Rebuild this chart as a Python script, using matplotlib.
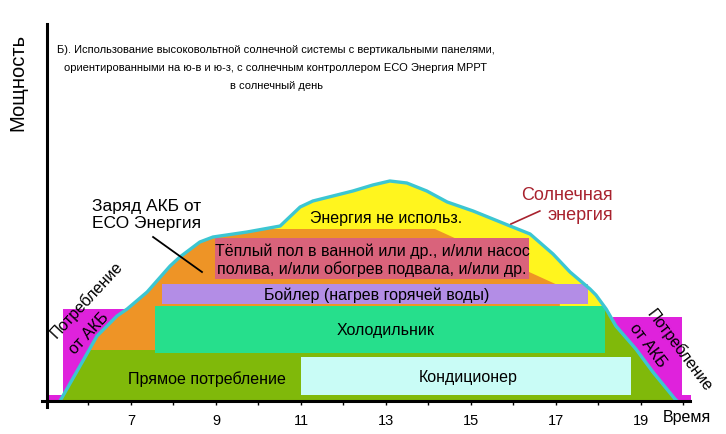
import matplotlib
matplotlib.use("Agg")
import matplotlib.pyplot as plt

plt.rcParams['font.family'] = ['Liberation Sans', 'DejaVu Sans']

# solar power over the day (hour, power in arbitrary units)
sun_t = [5.33, 5.80, 6.20, 6.67, 6.91, 7.38, 7.92, 8.15, 8.62, 8.93, 9.73, 10.51,
         10.98, 11.28, 11.75, 12.22, 12.69, 13.09, 13.49, 13.96, 14.44, 15.05,
         15.92, 16.39, 16.93, 17.33, 17.80, 17.94, 18.18, 18.41, 18.88, 19.28,
         19.80, 19.85]
sun_p = [0.0, 1.75, 3.25, 4.25, 4.6, 5.45, 6.75, 7.2, 7.95, 8.2, 8.45, 8.75,
         9.7, 10.0, 10.25, 10.5, 10.8, 11.0, 10.9, 10.5, 9.95, 9.5,
         8.75, 8.35, 7.35, 6.45, 5.6, 5.3, 4.6, 3.75, 2.6, 1.45,
         0.1, 0.0]

# battery charging zone (upper bound)
charge_t = [5.0, 5.0, 14.15, 17.09, 17.09]
charge_p = [0.0, 8.6, 8.6, 5.75, 0.0]

# direct consumption zone (upper bound)
direct_t = [5.0, 5.0, 7.56, 7.56, 20.0, 20.0]
direct_p = [0.0, 2.55, 2.55, 4.75, 4.75, 0.0]

# loads: start hour, end hour, lower and upper power
load_names = ["Тёплый пол в ванной или др., и/или насос\nполива, и/или обогрев подвала, и/или др.",
              "Бойлер (нагрев горячей воды)", "Холодильник", "Кондиционер"]
load_start = [8.98, 7.73, 7.56, 11.0]
load_end = [16.36, 17.75, 18.15, 18.76]
load_low = [6.1, 4.85, 2.4, 0.3]
load_high = [8.15, 5.85, 4.75, 2.2]

# consumption from the battery (morning, evening)
batt_start = [5.40, 5.02, 18.34, 18.34]
batt_end = [6.86, 5.40, 19.96, 20.18]
batt_high = [4.6, 0.3, 4.2, 0.3]

hours = list(range(6, 21))
hour_labels = [str(h) if h % 2 == 1 else "" for h in hours]

load_colors = ['#D9637B', '#B38DE6', '#26DF8C', '#C9FCF6']

fig = plt.figure(figsize=(7.26, 4.35), dpi=100)
ax = fig.add_axes([0, 0, 1, 1])
ax.set_xlim(3.918, 21.0)
ax.set_ylim(-1.65, 20.1)

for t0, t1, h in zip(batt_start, batt_end, batt_high):
    ax.fill([t0, t0, t1, t1], [0, h, h, 0], color='#DF22DC', lw=0, zorder=1)

sun_patch = ax.fill(sun_t + [sun_t[0]], sun_p + [0], color='#FFF51E', lw=0, zorder=2)[0]
charge = ax.fill(charge_t, charge_p, color='#EE9426', lw=0, zorder=3)[0]
charge.set_clip_path(sun_patch)
direct = ax.fill(direct_t, direct_p, color='#80B90A', lw=0, zorder=4)[0]
direct.set_clip_path(sun_patch)

for name, t0, t1, p0, p1, c in zip(load_names, load_start, load_end, load_low, load_high, load_colors):
    ax.fill([t0, t0, t1, t1], [p0, p1, p1, p0], color=c, lw=0, zorder=5)

ax.plot(sun_t, sun_p, color='#3CC6D2', lw=2.4, zorder=6, solid_capstyle='round')

# axes
for s in ['top', 'right']:
    ax.spines[s].set_visible(False)
ax.spines['left'].set_position(('data', 5.02))
ax.spines['left'].set_bounds(-0.3, 18.85)
ax.spines['bottom'].set_position(('data', 0))
ax.spines['bottom'].set_bounds(4.9, 20.15)
for s in ['left', 'bottom']:
    ax.spines[s].set_linewidth(2.2)
    ax.spines[s].set_zorder(7)
ax.set_yticks([])
ax.set_xticks(hours)
ax.set_xticklabels(hour_labels, fontsize=10.5)
ax.tick_params(axis='x', length=3, width=1, direction='out', pad=6)
ax.patch.set_alpha(0)

# labels inside the chart
kw = dict(ha='center', va='center', zorder=8, fontsize=11.5)
ax.text(12.67, 7.1, load_names[0], linespacing=1.15, **kw)
ax.text(12.79, 5.35, load_names[1], **kw)
ax.text(13.0, 3.55, load_names[2], **kw)
ax.text(14.93, 1.2, load_names[3], **kw)
ax.text(8.79, 1.15, "Прямое потребление", **kw)
ax.text(13.0, 9.2, "Энергия не использ.", **kw)

ax.text(6.08, 9.35, "Заряд АКБ от\nЕСО Энергия", ha='left', va='center', fontsize=12.5,
        linespacing=1.2, zorder=8)
ax.plot([7.52, 8.67], [8.2, 6.45], color='black', lw=1.3, zorder=8)

ax.text(18.34, 9.83, "Солнечная\nэнергия", ha='right', va='center', multialignment='right',
        fontsize=13, color='#A8222E', linespacing=1.2, zorder=8)
ax.plot([15.94, 16.62], [8.85, 9.5], color='#A8222E', lw=1.2, zorder=8)

ax.text(5.96, 5.1, "Потребление", rotation=47, **kw)
ax.text(6.01, 3.45, "от АКБ", rotation=47, **kw)
ax.text(19.92, 2.6, "Потребление", rotation=-53, **kw)
ax.text(19.16, 2.85, "от АКБ", rotation=-53, **kw)

ax.text(20.08, -0.8, "Время", ha='center', va='center', fontsize=11.5)

fig.text(18 / 726, 1 - 82 / 435, "Мощность", rotation=90, ha='center', va='center', fontsize=14.5)
fig.text(276 / 726, 1 - 68 / 435,
         "Б). Использование высоковольтной солнечной системы с вертикальными панелями,\n"
         "ориентированными на ю-в и ю-з, с солнечным контроллером ЕСО Энергия МРРТ\n"
         "в солнечный день",
         ha='center', va='center', fontsize=8.0, linespacing=1.95)

fig.savefig("out.png", dpi=100, facecolor='white')
